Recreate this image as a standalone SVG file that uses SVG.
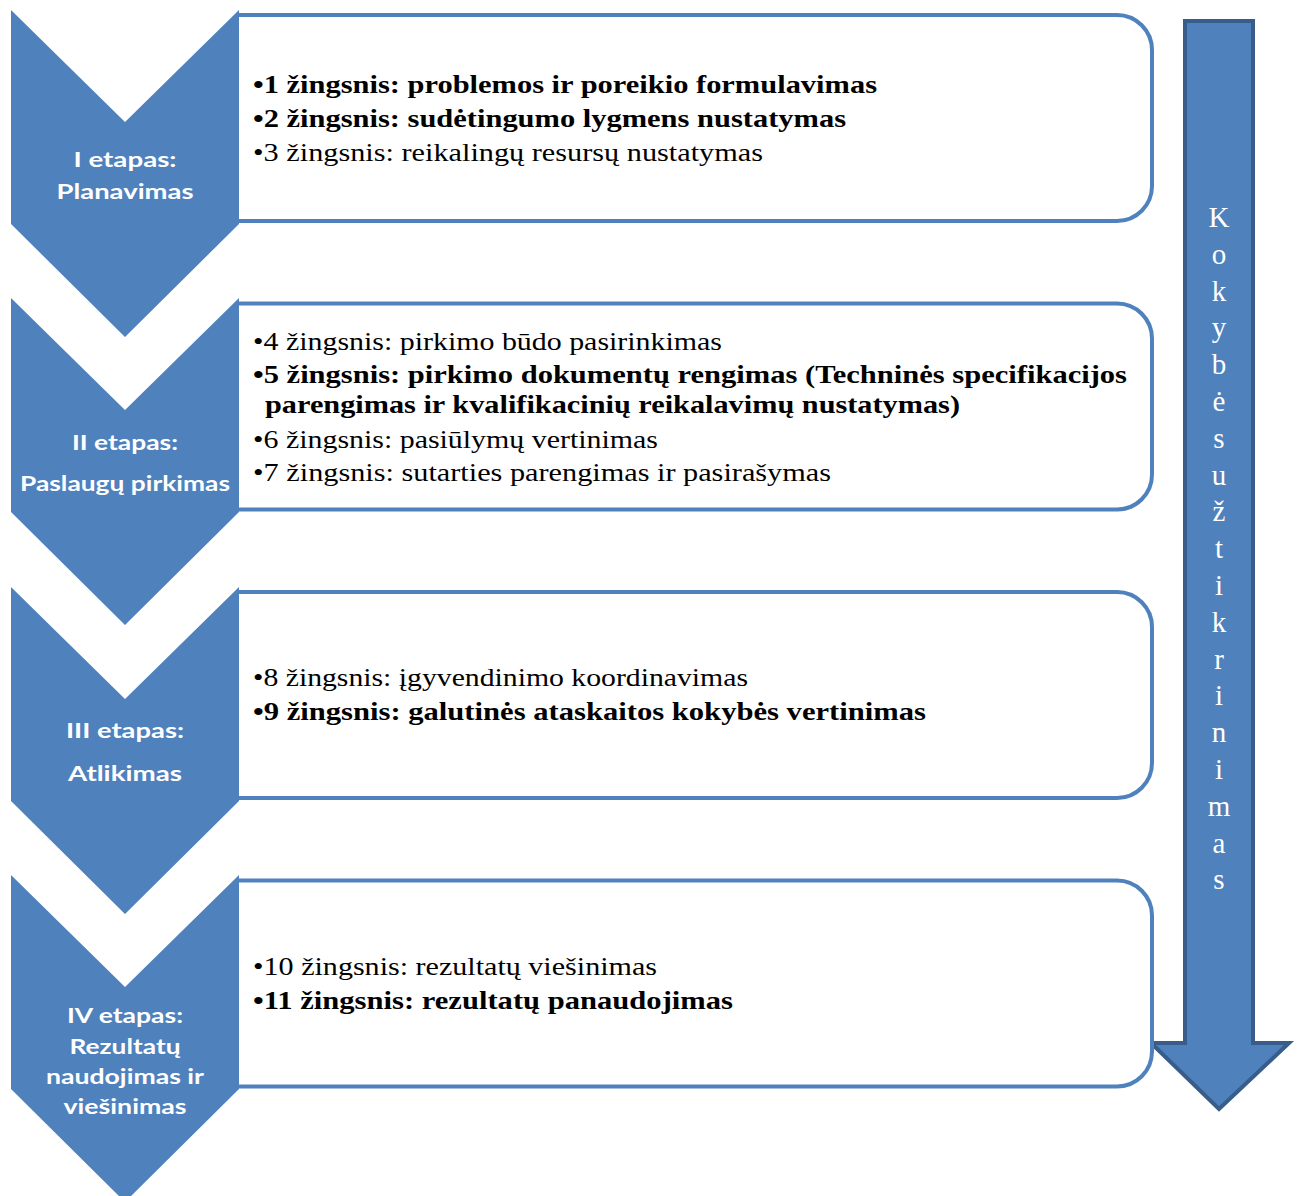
<svg xmlns="http://www.w3.org/2000/svg" width="1298" height="1196" viewBox="0 0 1298 1196">
<style>
.box{fill:#fff;stroke:#4f81bd;stroke-width:4}
.chev{fill:#4f81bd}
.lbl{font-family:Lato,"Liberation Sans",sans-serif;font-weight:bold;font-size:21px;fill:#fff;text-anchor:middle}
.t{font-family:"Liberation Serif",serif;font-size:26px;fill:#000}
.b{font-weight:bold}
.v{font-family:"Liberation Serif",serif;font-size:29px;fill:#fff;text-anchor:middle}
</style>
<rect width="1298" height="1196" fill="#fff"/>
<g id="quality-arrow">
<path d="M1185,21 H1253 V1043 H1289 L1219,1109 L1151,1043 H1185 Z" fill="#4f81bd" stroke="#385d8a" stroke-width="4" stroke-linejoin="miter"/>
<text class="v"><tspan x="1219" y="227">K</tspan><tspan x="1219" y="264">o</tspan><tspan x="1219" y="301">k</tspan><tspan x="1219" y="337">y</tspan><tspan x="1219" y="374">b</tspan><tspan x="1219" y="411">ė</tspan><tspan x="1219" y="448">s</tspan><tspan x="1219" y="485">u</tspan><tspan x="1219" y="521">ž</tspan><tspan x="1219" y="558">t</tspan><tspan x="1219" y="595">i</tspan><tspan x="1219" y="632">k</tspan><tspan x="1219" y="669">r</tspan><tspan x="1219" y="705">i</tspan><tspan x="1219" y="742">n</tspan><tspan x="1219" y="779">i</tspan><tspan x="1219" y="816">m</tspan><tspan x="1219" y="853">a</tspan><tspan x="1219" y="889">s</tspan></text>
</g>
<g id="connectors"></g>
<g id="stage1">
<path class="box" d="M239,15 H1117 A35,35 0 0 1 1152,50 V186 A35,35 0 0 1 1117,221 H239"/>
<path class="chev" d="M11,10 L125,122 L239,10 L239,224 L125,337 L11,224 Z"/>
<text class="lbl" x="125" y="167" textLength="103" lengthAdjust="spacingAndGlyphs">I etapas:</text>
<text class="lbl" x="125" y="199" textLength="137" lengthAdjust="spacingAndGlyphs">Planavimas</text>
<text class="t b" x="253" y="93" textLength="624" lengthAdjust="spacingAndGlyphs">•1 žingsnis: problemos ir poreikio formulavimas</text>
<text class="t b" x="253" y="127" textLength="593" lengthAdjust="spacingAndGlyphs">•2 žingsnis: sudėtingumo lygmens nustatymas</text>
<text class="t" x="253" y="161" textLength="510" lengthAdjust="spacingAndGlyphs">•3 žingsnis: reikalingų resursų nustatymas</text>
</g>
<g id="stage2">
<path class="box" d="M239,303.5 H1117 A35,35 0 0 1 1152,338.5 V474.5 A35,35 0 0 1 1117,509.5 H239"/>
<path class="chev" d="M11,298 L125,410 L239,298 L239,512 L125,625 L11,512 Z"/>
<text class="lbl" x="125" y="450" textLength="106" lengthAdjust="spacingAndGlyphs">II etapas:</text>
<text class="lbl" x="125" y="491" textLength="210" lengthAdjust="spacingAndGlyphs">Paslaugų pirkimas</text>
<text class="t" x="253" y="350" textLength="469" lengthAdjust="spacingAndGlyphs">•4 žingsnis: pirkimo būdo pasirinkimas</text>
<text class="t b" x="253" y="383" textLength="874" lengthAdjust="spacingAndGlyphs">•5 žingsnis: pirkimo dokumentų rengimas (Techninės specifikacijos</text>
<text class="t b" x="265" y="413" textLength="695" lengthAdjust="spacingAndGlyphs">parengimas ir kvalifikacinių reikalavimų nustatymas)</text>
<text class="t" x="253" y="448" textLength="405" lengthAdjust="spacingAndGlyphs">•6 žingsnis: pasiūlymų vertinimas</text>
<text class="t" x="253" y="481" textLength="578" lengthAdjust="spacingAndGlyphs">•7 žingsnis: sutarties parengimas ir pasirašymas</text>
</g>
<g id="stage3">
<path class="box" d="M239,592 H1117 A35,35 0 0 1 1152,627 V763 A35,35 0 0 1 1117,798 H239"/>
<path class="chev" d="M11,587 L125,699 L239,587 L239,801 L125,914 L11,801 Z"/>
<text class="lbl" x="125" y="738" textLength="118" lengthAdjust="spacingAndGlyphs">III etapas:</text>
<text class="lbl" x="125" y="781" textLength="114" lengthAdjust="spacingAndGlyphs">Atlikimas</text>
<text class="t" x="253" y="686" textLength="495" lengthAdjust="spacingAndGlyphs">•8 žingsnis: įgyvendinimo koordinavimas</text>
<text class="t b" x="253" y="720" textLength="673" lengthAdjust="spacingAndGlyphs">•9 žingsnis: galutinės ataskaitos kokybės vertinimas</text>
</g>
<g id="stage4">
<path class="box" d="M239,880.5 H1117 A35,35 0 0 1 1152,915.5 V1051.5 A35,35 0 0 1 1117,1086.5 H239"/>
<path class="chev" d="M11,875 L125,987 L239,875 L239,1089 L125,1202 L11,1089 Z"/>
<text class="lbl" x="125" y="1023" textLength="116" lengthAdjust="spacingAndGlyphs">IV etapas:</text>
<text class="lbl" x="125" y="1054" textLength="111" lengthAdjust="spacingAndGlyphs">Rezultatų</text>
<text class="lbl" x="125" y="1084" textLength="158" lengthAdjust="spacingAndGlyphs">naudojimas ir</text>
<text class="lbl" x="125" y="1114" textLength="123" lengthAdjust="spacingAndGlyphs">viešinimas</text>
<text class="t" x="253" y="975" textLength="404" lengthAdjust="spacingAndGlyphs">•10 žingsnis: rezultatų viešinimas</text>
<text class="t b" x="253" y="1009" textLength="480" lengthAdjust="spacingAndGlyphs">•11 žingsnis: rezultatų panaudojimas</text>
</g>
</svg>
